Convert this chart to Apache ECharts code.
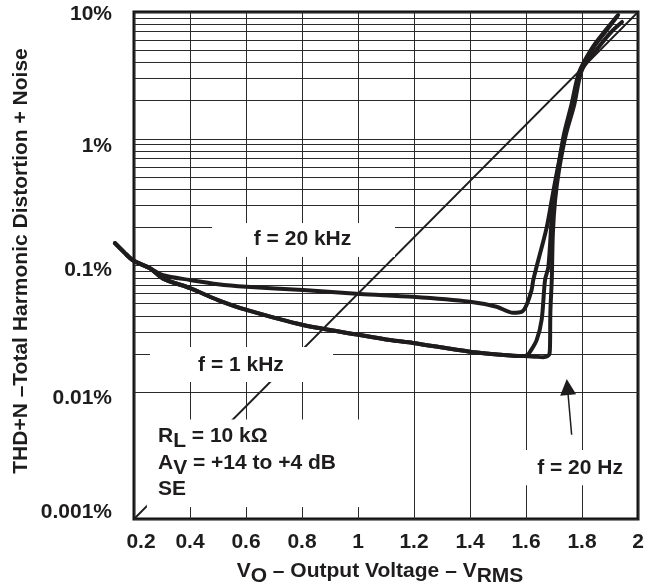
<!DOCTYPE html>
<html><head><meta charset="utf-8">
<script src="https://cdn.jsdelivr.net/npm/echarts@6/dist/echarts.min.js"></script>
<style>html,body{margin:0;padding:0;background:#fff}#c{width:658px;height:587px}</style>
</head><body><div id="c"></div>
<script>
// ---- data ----
const xTickLabels = ['0.2','0.4','0.6','0.8','1','1.2','1.4','1.6','1.8','2'];
const yTickLabels = ['0.001%','0.01%','0.1%','1%','10%'];
const minorMultipliers = [2,3,4,5,6,7,8,9];
const decades = [0.001,0.01,0.1,1];

// THD+N (%) vs output voltage (V RMS)
const curve20kHz = [[0.132,0.150],[0.165,0.127],[0.196,0.110],[0.257,0.095],[0.304,0.0837],[0.4,0.0769],[0.5,0.0712],[0.602,0.068],[0.804,0.064],[1.007,0.0596],[1.196,0.0567],[1.4,0.0518],[1.495,0.0473],[1.554,0.0424],[1.585,0.0432],[1.602,0.0488],[1.62,0.064],[1.626,0.077],[1.638,0.098],[1.674,0.20],[1.692,0.329],[1.712,0.567],[1.738,1.07],[1.768,1.846],[1.795,3.36],[1.857,5.2],[1.904,6.95],[1.943,8.34]];
const curve1kHz = [[0.132,0.150],[0.165,0.127],[0.196,0.110],[0.257,0.095],[0.304,0.0788],[0.4,0.0663],[0.5,0.0534],[0.602,0.0446],[0.804,0.0339],[1.007,0.0283],[1.114,0.0258],[1.196,0.0245],[1.4,0.0209],[1.554,0.0194],[1.59,0.0193],[1.605,0.0197],[1.614,0.0208],[1.638,0.0258],[1.656,0.0375],[1.668,0.0769],[1.68,0.098],[1.692,0.243],[1.697,0.329],[1.714,0.567],[1.735,1.07],[1.762,1.846],[1.790,3.36],[1.836,5.2],[1.879,6.95],[1.929,9.47]];
const curve20Hz = [[0.132,0.150],[0.165,0.127],[0.196,0.110],[0.257,0.095],[0.304,0.0788],[0.4,0.0663],[0.5,0.0534],[0.602,0.0446],[0.804,0.0339],[1.007,0.0283],[1.114,0.0258],[1.196,0.0245],[1.4,0.0209],[1.554,0.0194],[1.59,0.0193],[1.63,0.0191],[1.661,0.0189],[1.676,0.0192],[1.684,0.0202],[1.686,0.025],[1.687,0.0425],[1.692,0.077],[1.696,0.18],[1.704,0.329],[1.718,0.567],[1.742,1.07],[1.772,1.846],[1.797,3.36],[1.84,5.2],[1.883,6.95],[1.925,9.2]];
const diagonal = [[0.2,0.001],[2,10]];

// ---- chart ----
const FONT = '"Liberation Sans", Arial, Helvetica, sans-serif';
const INK = '#1e1c1d';
const chart = echarts.init(document.getElementById('c'), null, {renderer:'canvas'});

const minorValues = [];
decades.forEach(d => minorMultipliers.forEach(m => minorValues.push(+(d*m).toPrecision(3))));

const txt = {fontFamily: FONT, fontWeight: 'bold', fontSize: 21, color: INK};
const richSub = {
  m: {fontFamily: FONT, fontWeight: 'bold', fontSize: 21, color: INK, lineHeight: 21, verticalAlign: 'top'},
  s: {fontFamily: FONT, fontWeight: 'bold', fontSize: 21, color: INK, lineHeight: 26, verticalAlign: 'bottom'}
};
function textPoint(coord, text, pos) {
  return {coord, name: text, value: 0,
    label: Object.assign({show: true, position: pos || 'inside', distance: 0, formatter: text, rich: richSub}, txt)};
}

// small vertical nudges of the y tick labels, as printed in the original
const yLabelPad = [[0,0,14,0],[12,0,0,0],[9,0,0,0],[14,0,0,0],[4,0,0,0]];
const yRich = {};
yLabelPad.forEach((p, i) => { yRich['y' + i] = Object.assign({padding: p}, txt); });

const lineCurve = (name, data) => ({
  name, type: 'line', data, z: 4, xAxisIndex: 1, yAxisIndex: 1, showSymbol: false, symbol: 'none', smooth: 0.3,
  lineStyle: {color: INK, width: 4, join: 'round', cap: 'round'}, silent: true
});

const PLOT = {top: 12, bottom: 68, right: 20, left: 134};
chart.setOption({
  animation: false,
  backgroundColor: '#fff',
  grid: [
    Object.assign({show: true, borderColor: '#111', borderWidth: 3, backgroundColor: 'transparent'}, PLOT),
    // same scale as the main grid, extended to the left so curves can start before 0.2 V
    {top: 12, bottom: 68, right: 20, left: 106, show: false}
  ],
  xAxis: [{
    type: 'value', min: 0.2, max: 2, interval: 0.2,
    axisLine: {show: false}, axisTick: {show: false},
    axisLabel: Object.assign({margin: 13,
      formatter: v => { const i = Math.round(v/0.2) - 1; return i === 0 ? '{first|' + xTickLabels[i] + '}' : xTickLabels[i]; },
      rich: {first: {fontFamily: FONT, fontWeight: 'bold', fontSize: 21, color: INK, padding: [0,0,0,14]}}}, txt),
    splitLine: {show: true, lineStyle: {color: '#2a2a2a', width: 1}}
  }, {
    type: 'value', gridIndex: 1, min: 0.1, max: 2, show: false
  }],
  yAxis: [{
    type: 'log', logBase: 10, min: 0.001, max: 10,
    axisLine: {show: false}, axisTick: {show: false},
    axisLabel: Object.assign({margin: 22, rich: yRich,
      formatter: v => { const i = Math.round(Math.log10(v)) + 3; return '{y' + i + '|' + yTickLabels[i] + '}'; }}, txt),
    splitLine: {show: true, lineStyle: {color: '#2a2a2a', width: 1}}
  }, {
    type: 'log', logBase: 10, gridIndex: 1, min: 0.001, max: 10, show: false
  }],
  graphic: [
    {type: 'text', x: 21, y: 261, rotation: Math.PI/2,
     style: {text: 'THD+N –Total Harmonic Distortion + Noise', font: 'bold 21px ' + FONT, fill: INK,
             align: 'center', verticalAlign: 'middle', textAlign: 'center', textVerticalAlign: 'middle'}},
    {type: 'text', x: 380, y: 574,
     style: {text: '{m|V}{s|O}{m| – Output Voltage – V}{s|RMS}', rich: {
        m: {font: 'bold 21px ' + FONT, fill: INK, lineHeight: 21, verticalAlign: 'top'},
        s: {font: 'bold 21px ' + FONT, fill: INK, lineHeight: 26, verticalAlign: 'bottom'}},
       align: 'center', verticalAlign: 'middle', textAlign: 'center', textVerticalAlign: 'middle'}}
  ],
  series: [
    {name: 'minorGrid', type: 'line', data: [], z: 1, silent: true,
     markLine: {z: 1, silent: true, symbol: 'none', animation: false, label: {show: false},
       lineStyle: {color: '#2a2a2a', width: 1, type: 'solid'},
       emphasis: {disabled: true},
       data: minorValues.map(v => ({yAxis: v}))}},
    {name: 'diagonal', type: 'line', data: diagonal, z: 2, showSymbol: false, symbol: 'none', silent: true,
     lineStyle: {color: INK, width: 1.8}},
    {name: 'notes', type: 'line', data: [], z: 3, silent: true,
     markArea: {z: 3, silent: true, itemStyle: {color: '#fff', opacity: 1}, label: {show: false},
       emphasis: {disabled: true},
       data: [
         [{coord: [0.479, 0.2164]}, {coord: [1.132, 0.1167]}],
         [{coord: [0.257, 0.02275]}, {coord: [0.911, 0.01205]}],
         [{coord: [0.246, 0.0061]}, {coord: [1.018, 0.001245]}],
         [{coord: [1.489, 0.0035]}, {coord: [1.99, 0.00185]}]
       ]},
     markPoint: {z: 6, silent: true, symbol: 'circle', symbolSize: 0, itemStyle: {color: 'transparent'},
       emphasis: {disabled: true},
       data: [
         textPoint([0.8018, 0.1618], '{m|f = 20 kHz}'),
         textPoint([0.582, 0.0164], '{m|f = 1 kHz}'),
         textPoint([1.793, 0.00252], '{m|f = 20 Hz}'),
         textPoint([0.2857, 0.0043], '{m|R}{s|L}{m| = 10 kΩ}', 'right'),
         textPoint([0.2857, 0.00265], '{m|A}{s|V}{m| = +14 to +4 dB}', 'right'),
         textPoint([0.2857, 0.00163], '{m|SE}{s| }', 'right')
       ]},
     markLine: {z: 6, silent: true, symbol: ['none', 'triangle'], symbolSize: [16, 16], label: {show: false},
       emphasis: {disabled: true},
       lineStyle: {color: INK, width: 1.5, type: 'solid'},
       itemStyle: {color: INK},
       data: [[{coord: [1.763, 0.00462]}, {coord: [1.748, 0.0110]}]]}},
    lineCurve('f = 20 kHz', curve20kHz),
    lineCurve('f = 1 kHz', curve1kHz),
    lineCurve('f = 20 Hz', curve20Hz)
  ]
});
</script></body></html>
